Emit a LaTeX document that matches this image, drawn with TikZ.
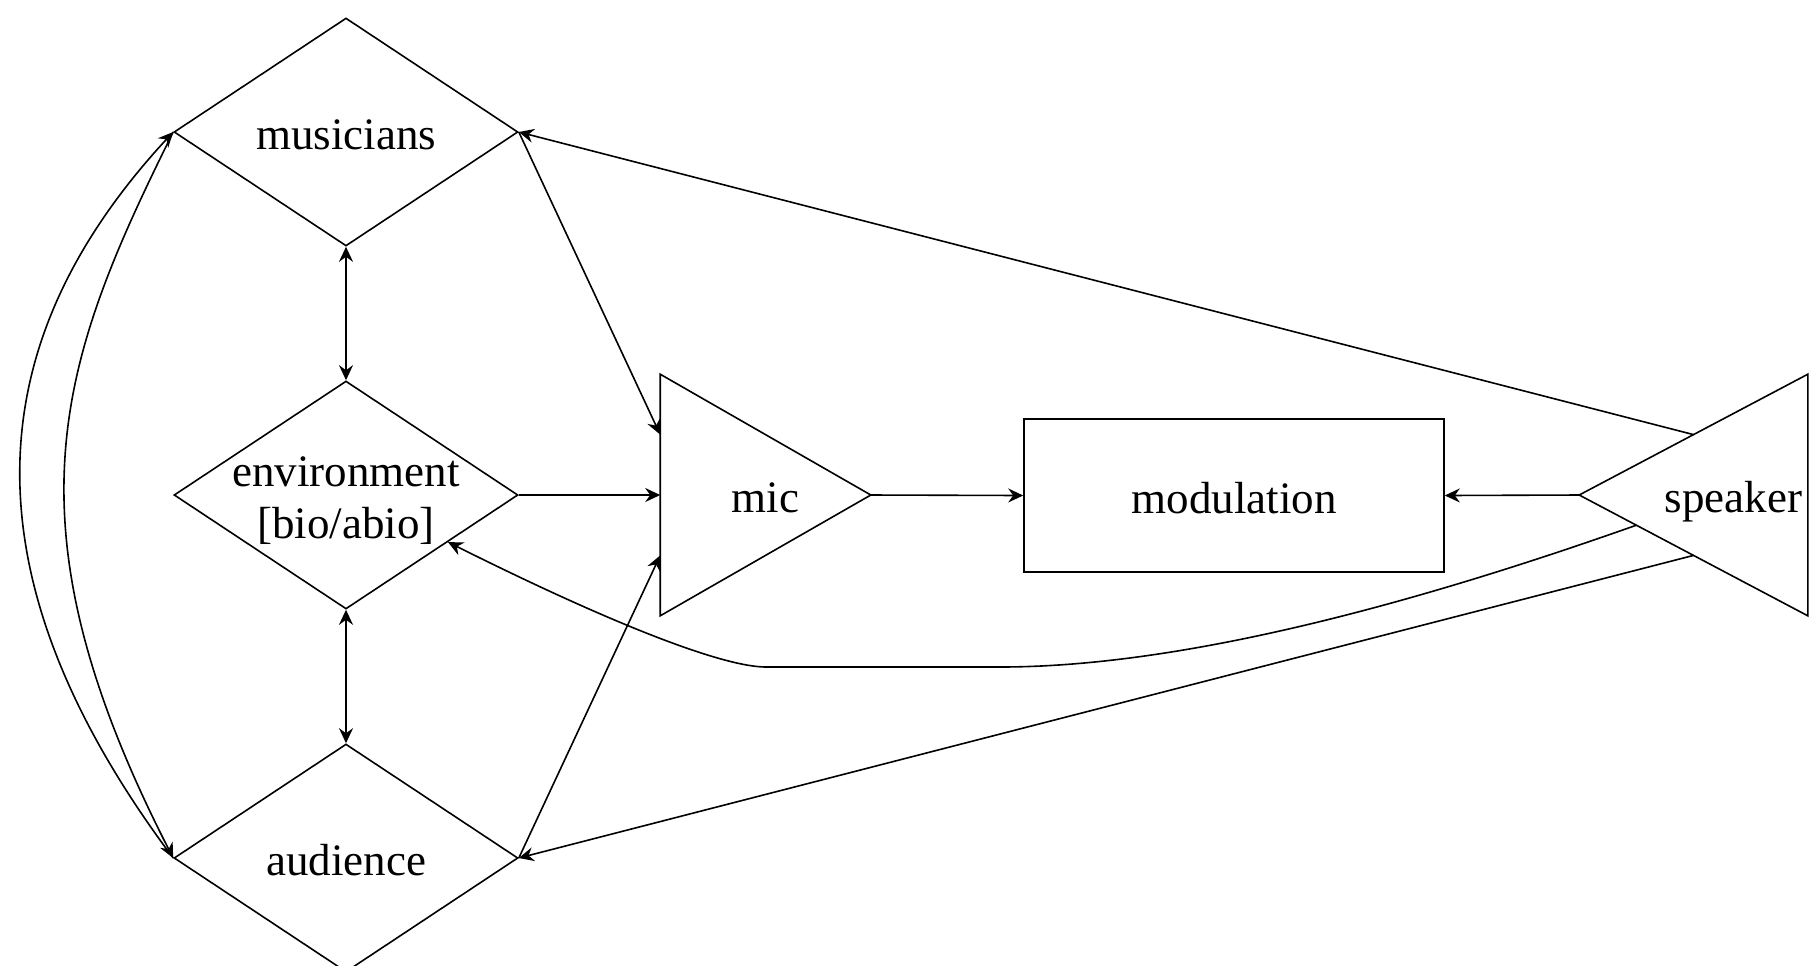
\documentclass[tikz,border=0pt]{standalone}
\usepackage{fontspec}
\setmainfont{Liberation Serif}
\usetikzlibrary{shapes.geometric,arrows.meta,calc}
\begin{document}
\begin{tikzpicture}[x=0.5pt,y=-0.5pt,
  line width=0.8pt,
  lbl/.style={font=\fontsize{22.5}{25.5}\selectfont, align=center, inner sep=0, text height=22pt, text depth=4.4pt},
  lbl2/.style={font=\fontsize{22.5}{26}\selectfont, align=center, inner sep=0},
  dia/.style={diamond, draw, minimum width=172pt, minimum height=114pt, inner sep=0},
  box/.style={draw, minimum width=210pt, minimum height=76.5pt, inner sep=0},
  tri/.style={minimum height=120pt, inner sep=0},
  conn/.style={-{Stealth[length=7.5pt,width=7pt,inset=2.5pt]}},
  biconn/.style={{Stealth[length=7.5pt,width=7pt,inset=2.5pt]}-{Stealth[length=7.5pt,width=7pt,inset=2.5pt]}},
]
\useasboundingbox (0,0) rectangle (1819,965);

\node[dia] (mus) at (346,132) {};
\node[lbl] (mustext) at (mus.center) {musicians};
\node[dia] (env) at (346,495) {};
\node[lbl2] (envtext) at ($(env.center)+(0,5.5)$) {environment\\{}[bio/abio]};
\node[dia] (aud) at (346,858) {};
\node[lbl] (audtext) at (aud.center) {audience};

\node[tri, minimum width=104.5pt] (mic) at (765.5,495) {};
\draw (mic.north west) -- (mic.east) -- (mic.south west) -- cycle;
\node[lbl] (mictext) at (mic.center) {mic};

\node[box] (mod) at (1234,495.5) {};
\node[lbl] (modtext) at (mod.center) {modulation};

\node[tri, minimum width=113.5pt] (spk) at (1693.5,495) {};
\draw (spk.west) -- (spk.north east) -- (spk.south east) -- cycle;
\node[lbl, anchor=east] (spktext) at ($(spk.east)+(-5,0)$) {speaker};

\coordinate (micA) at ($(mic.north west)!0.25!(mic.south west)$);
\coordinate (micB) at ($(mic.north west)!0.75!(mic.south west)$);
\coordinate (spkA) at ($(spk.west)!0.5!(spk.north east)$);
\coordinate (spkB) at ($(spk.west)!0.5!(spk.south east)$);
\coordinate (spkC) at ($(spk.west)!0.25!(spk.south east)$);
\coordinate (envP) at ($(env.east)!0.41!(env.south)$);

\draw[biconn] (mus.south) -- (env.north);
\draw[biconn] (env.south) -- (aud.north);
\draw[conn] (env.east) -- (mic.west);
\draw[conn] (mic.east) -- (mod.west);
\draw[conn] (spk.west) -- (mod.east);
\draw[conn] (mus.east) -- (micA);
\draw[conn] (aud.east) -- (micB);
\draw[conn] (spkA) -- (mus.east);
\draw[conn] (spkB) -- (aud.east);
\draw[conn] (spkC) .. controls (1450,591) and (1200,667) .. (1000,667) -- (766,667) .. controls (725,667) and (620,628) .. (envP);
\draw[conn] (aud.west) .. controls (-50,560) and (-10,330) .. (mus.west);
\draw[conn] (mus.west) .. controls (60,360) and (0,520) .. (aud.west);
\end{tikzpicture}
\end{document}
